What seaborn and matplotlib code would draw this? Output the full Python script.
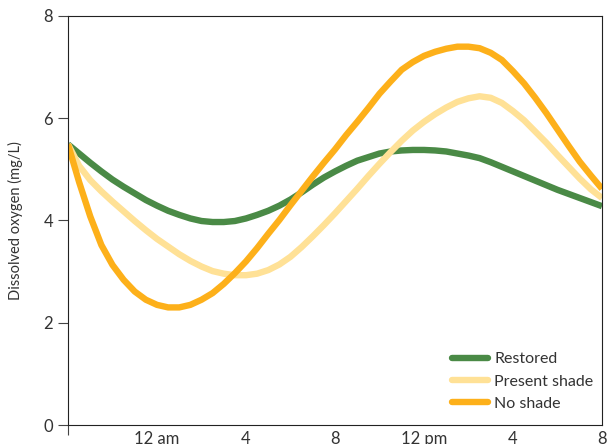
import matplotlib
matplotlib.use("Agg")
import matplotlib.pyplot as plt
import seaborn as sns
import pandas as pd

# Hours since 8 pm, read every half hour
hours = [i * 0.5 for i in range(49)]
restored = [5.49, 5.31, 5.13, 4.96, 4.80, 4.66, 4.53, 4.40, 4.29, 4.19, 4.11, 4.04, 3.99,
            3.97, 3.97, 3.99, 4.04, 4.11, 4.19, 4.29, 4.41, 4.55, 4.70, 4.84, 4.96,
            5.07, 5.17, 5.24, 5.31, 5.35, 5.37, 5.38, 5.38, 5.37, 5.35, 5.31, 5.27, 5.22,
            5.14, 5.05, 4.96, 4.87, 4.78, 4.69, 4.60, 4.52, 4.44, 4.36, 4.28]
present_shade = [5.49, 5.07, 4.79, 4.57, 4.37, 4.18, 3.99, 3.81, 3.64, 3.49, 3.34, 3.21, 3.10,
                 3.01, 2.96, 2.93, 2.93, 2.96, 3.03, 3.14, 3.29, 3.48, 3.69, 3.91, 4.14,
                 4.38, 4.62, 4.87, 5.11, 5.34, 5.56, 5.76, 5.93, 6.08, 6.21, 6.32, 6.39, 6.43,
                 6.40, 6.30, 6.14, 5.96, 5.74, 5.52, 5.28, 5.05, 4.82, 4.61, 4.44]
no_shade = [5.49, 4.75, 4.08, 3.52, 3.13, 2.84, 2.61, 2.45, 2.35, 2.30, 2.30, 2.35, 2.45,
            2.58, 2.76, 2.97, 3.20, 3.46, 3.74, 4.01, 4.30, 4.58, 4.86, 5.13, 5.39,
            5.67, 5.93, 6.20, 6.48, 6.72, 6.95, 7.10, 7.22, 7.30, 7.36, 7.40, 7.40, 7.37,
            7.28, 7.14, 6.92, 6.68, 6.40, 6.10, 5.78, 5.46, 5.15, 4.88, 4.62]
series_names = ["Restored", "Present shade", "No shade"]
colors = ["#4a8a46", "#ffe196", "#fdb01a"]
xtick_pos = [4, 8, 12, 16, 20, 24]
xtick_labels = ["12 am", "4", "8", "12 pm", "4", "8"]
ytick_pos = [0, 2, 4, 6, 8]

n = len(hours)
df = pd.DataFrame({
    "hour": hours * 3,
    "value": restored + present_shade + no_shade,
    "series": [series_names[0]] * n + [series_names[1]] * n + [series_names[2]] * n,
})

sns.set_style("ticks")
plt.rcParams["font.family"] = ["Lato", "DejaVu Sans"]

fig = plt.figure(figsize=(6.09, 4.44), dpi=100)
ax = fig.add_axes([68 / 609, 19 / 444, 534 / 609, 409 / 444])

sns.lineplot(data=df, x="hour", y="value", hue="series", hue_order=series_names,
             palette=colors, linewidth=4.6, ax=ax, legend=True)
for ln in ax.lines:
    ln.set_solid_capstyle("butt")
    ln.set_solid_joinstyle("round")

ax.set_xlim(0, 24)
ax.set_ylim(0, 8)
ax.set_xticks(xtick_pos)
ax.set_xticklabels(xtick_labels)
ax.set_xticks([0], minor=True)
ax.tick_params(axis="x", which="major", length=0, pad=4, labelsize=12, colors="#333333")
ax.tick_params(axis="x", which="minor", length=7.5, width=0.8, color="#444444", direction="out")
ax.set_yticks(ytick_pos)
ax.tick_params(axis="y", length=7.2, width=0.8, color="#444444", pad=3.5, labelsize=12,
               labelcolor="#333333")
for s in ax.spines.values():
    s.set_visible(True)
    s.set_linewidth(0.8)
    s.set_color("#222222")
ax.set_xlabel("")
ax.set_ylabel("Dissolved oxygen (mg/L)", fontsize=10.5, color="#333333", labelpad=15)

leg = ax.legend(loc="lower right", bbox_to_anchor=(0.984, 0.035), frameon=False,
                fontsize=11.5, handlelength=2.25, handletextpad=0.38, labelspacing=0.5,
                borderaxespad=0, borderpad=0)
for h in leg.get_lines():
    h.set_linewidth(4.6)
    h.set_solid_capstyle("round")
for t in leg.get_texts():
    t.set_color("#333333")

fig.savefig("out.png", dpi=100)
